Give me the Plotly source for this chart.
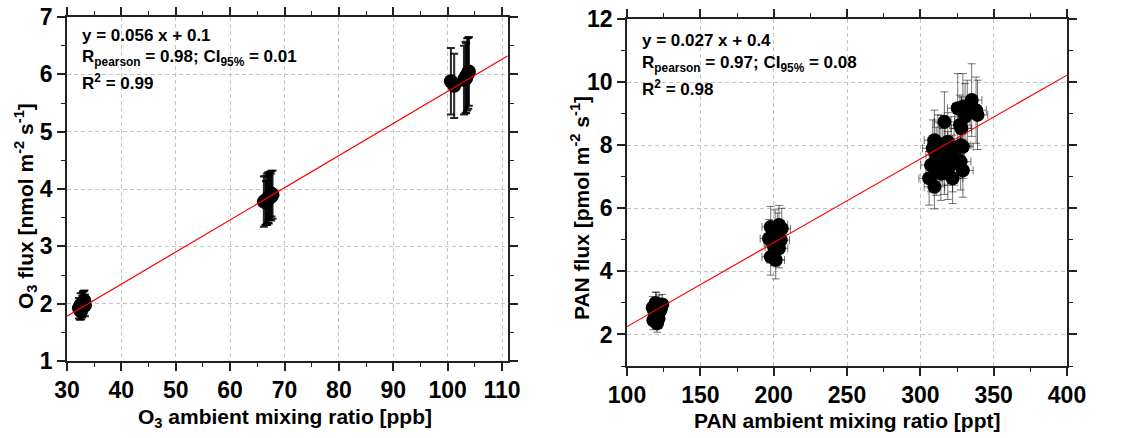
import plotly.graph_objects as go

# ---------------- data ----------------
# O3 (left panel)
o3_x = [32.2, 32.5, 32.8, 33.0, 33.2, 32.6, 32.9, 33.3, 32.4, 33.1,
        66.2, 66.5, 66.8, 67.0, 67.3, 67.6, 67.8, 66.6, 67.1, 67.5,
        100.6, 101.2,
        103.0, 103.3, 103.6, 103.9, 103.4, 103.8]
o3_y = [1.92, 1.98, 1.95, 2.02, 2.05, 1.90, 2.00, 1.97, 1.88, 2.03,
        3.78, 3.80, 3.82, 3.85, 3.88, 3.92, 3.90, 3.76, 3.83, 3.86,
        5.88, 5.80,
        5.90, 5.95, 6.00, 6.05, 5.93, 6.02]
o3_err = [0.18, 0.20, 0.19, 0.20, 0.18, 0.17, 0.20, 0.19, 0.16, 0.19,
          0.44, 0.43, 0.45, 0.44, 0.42, 0.40, 0.42, 0.38, 0.43, 0.41,
          0.58, 0.56,
          0.60, 0.62, 0.63, 0.60, 0.61, 0.62]
o3_fit_x = [30, 111]
o3_fit_y = [1.78, 6.32]

# PAN (right panel)
pan_x = [117.5, 118.5, 119.0, 120.0, 121.0, 122.0, 123.0, 118.0, 120.5, 122.5, 119.5, 121.5, 124.0,
         198.0, 203.6, 196.8, 202.5, 200.2, 203.6, 198.0, 201.4, 204.8, 199.5, 201.0, 205.5,
         325.5, 329.0, 335.0, 332.0, 338.0, 339.0, 327.0, 328.0, 330.5, 316.4,
         327.5, 329.0, 309.6, 312.0, 314.0, 318.7, 321.0, 308.5, 310.8, 315.3,
         318.7, 323.0, 307.3, 310.8, 316.4, 322.0, 327.5, 329.0, 318.7, 322.0,
         306.0, 309.6, 314.0, 313.0, 317.0]
pan_y = [2.85, 2.75, 2.55, 2.95, 2.65, 2.90, 2.80, 2.45, 2.35, 2.75, 3.00, 2.50, 2.95,
         5.41, 5.47, 5.04, 5.20, 4.78, 4.73, 4.46, 4.36, 4.99, 4.90, 5.30, 5.35,
         9.17, 9.22, 9.43, 9.06, 9.11, 8.96, 8.64, 8.53, 8.90, 8.74,
         8.00, 7.95, 8.16, 8.06, 8.00, 8.11, 7.95, 7.90, 7.69, 7.63,
         7.58, 7.63, 7.37, 7.26, 7.32, 7.42, 7.48, 7.20, 7.10, 6.95,
         6.95, 6.68, 7.10, 7.80, 7.85]
pan_yerr = [0.35, 0.30, 0.32, 0.38, 0.30, 0.35, 0.33, 0.30, 0.28, 0.35, 0.35, 0.30, 0.32,
            0.65, 0.62, 0.60, 0.65, 0.60, 0.62, 0.58, 0.60, 0.62, 0.60, 0.65, 0.65,
            1.10, 1.05, 1.15, 1.00, 1.05, 1.10, 0.95, 1.00, 1.05, 0.95,
            0.95, 1.00, 0.95, 0.90, 0.95, 0.92, 0.95, 0.90, 0.88, 0.90,
            0.85, 0.90, 0.85, 0.85, 0.88, 0.90, 0.90, 0.85, 0.82, 0.80,
            0.85, 0.70, 0.85, 0.90, 0.92]
pan_xerr = [3.0] * 13 + [6.0] * 12 + [7.0] * 35
pan_fit_x = [100, 400]
pan_fit_y = [2.25, 10.22]

FONT = "Liberation Sans"

fig = go.Figure()

fig.add_trace(go.Scatter(
    x=o3_x, y=o3_y, mode="markers", xaxis="x", yaxis="y",
    marker=dict(color="black", size=14),
    error_y=dict(type="data", array=o3_err, color="rgba(0,0,0,0.85)", thickness=2, width=4),
    showlegend=False))
fig.add_trace(go.Scatter(
    x=o3_fit_x, y=o3_fit_y, mode="lines", xaxis="x", yaxis="y",
    line=dict(color="red", width=1.2), showlegend=False))

fig.add_trace(go.Scatter(
    x=pan_x, y=pan_y, mode="markers", xaxis="x2", yaxis="y2",
    marker=dict(color="black", size=14),
    error_y=dict(type="data", array=pan_yerr, color="rgba(0,0,0,0.55)", thickness=1, width=4),
    error_x=dict(type="data", array=pan_xerr, color="rgba(0,0,0,0.55)", thickness=1, width=4),
    showlegend=False))
fig.add_trace(go.Scatter(
    x=pan_fit_x, y=pan_fit_y, mode="lines", xaxis="x2", yaxis="y2",
    line=dict(color="red", width=1.2), showlegend=False))

tickfont = dict(family=FONT, size=23, color="black", weight="bold")
titlefont = dict(family=FONT, size=21, color="black", weight="bold")

def axis(domain, rng, dtick, minor_dtick, anchor):
    return dict(
        domain=domain, range=rng, dtick=dtick, tick0=0, anchor=anchor,
        automargin=False,
        showline=True, linecolor="#222", linewidth=1.5, mirror="allticks",
        ticks="outside", ticklen=8, tickwidth=1.5, tickcolor="#222",
        minor=dict(dtick=minor_dtick, ticks="outside", ticklen=4, tickwidth=1.2,
                   tickcolor="#222", showgrid=False),
        showgrid=True, gridcolor="#c4c4c4", gridwidth=1, griddash="4px,3px",
        zeroline=False, tickfont=tickfont)

W, H = 1123, 438
fig.update_layout(
    width=W, height=H, margin=dict(l=0, r=0, t=0, b=0),
    paper_bgcolor="white", plot_bgcolor="white",
    xaxis=axis([67 / W, 508 / W], [30, 111.1], 10, 5, "y"),
    yaxis=axis([1 - 361 / H, 1 - 17 / H], [1, 7], 1, 0.5, "x"),
    xaxis2=axis([627 / W, 1067 / W], [100, 400], 50, 25, "y2"),
    yaxis2=axis([1 - 366 / H, 1 - 19 / H], [1, 12], 2, 1, "x2"),
)

# axis titles (placed in paper pixels)
titles = [
    ("O<sub>3</sub> ambient mixing ratio [ppb]", 285, 418, 0),
    ("O<sub>3</sub> flux [nmol m<sup>-2</sup> s<sup>-1</sup>]", 25, 206, -90),
    ("PAN ambient mixing ratio [ppt]", 847, 420, 0),
    ("PAN flux [pmol m<sup>-2</sup> s<sup>-1</sup>]", 580, 208, -90),
]
for txt, px, py, ang in titles:
    fig.add_annotation(text=txt, xref="paper", yref="paper", x=px / W, y=1 - py / H,
                       xanchor="center", yanchor="middle", textangle=ang,
                       showarrow=False, font=titlefont)

ann_font = dict(family=FONT, size=17, color="black", weight="bold")
left_lines = ["y = 0.056 x + 0.1",
              "R<sub>pearson</sub> = 0.98; CI<sub>95%</sub> = 0.01",
              "R<sup>2</sup> = 0.99"]
right_lines = ["y = 0.027 x + 0.4",
               "R<sub>pearson</sub> = 0.97; CI<sub>95%</sub> = 0.08",
               "R<sup>2</sup> = 0.98"]
line_y = [35, 58, 82]
for txt, yy in zip(left_lines, line_y):
    fig.add_annotation(text=txt, xref="paper", yref="paper", x=80 / W, y=1 - yy / H,
                       xanchor="left", yanchor="middle", showarrow=False, font=ann_font)
for txt, yy in zip(right_lines, line_y):
    fig.add_annotation(text=txt, xref="paper", yref="paper", x=640 / W, y=1 - (yy + 6) / H,
                       xanchor="left", yanchor="middle", showarrow=False, font=ann_font)

fig.write_html("out.html")
